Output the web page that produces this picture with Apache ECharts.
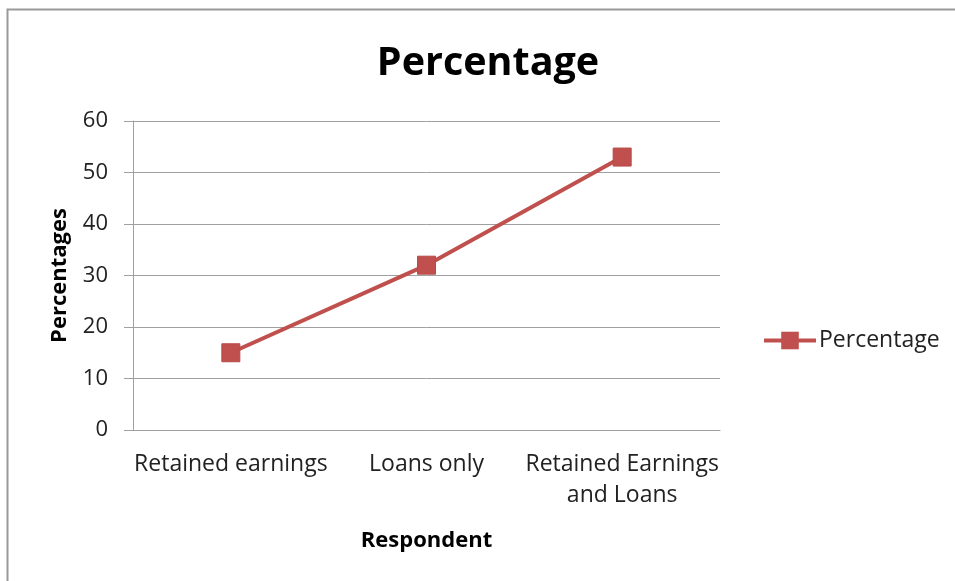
<!DOCTYPE html>
<html>
<head>
<meta charset="utf-8">
<script src="https://cdn.jsdelivr.net/npm/echarts@6/dist/echarts.min.js"></script>
<style>
  html, body { margin: 0; padding: 0; background: #fff; }
  #chart { width: 955px; height: 581px; }
</style>
</head>
<body>
<div id="chart"></div>
<script>
// Funding source categories and the share of respondents for each
const categories = ['Retained earnings', 'Loans only', 'Retained Earnings\nand Loans'];
const percentages = [15, 32, 53];
const yTicks = { min: 0, max: 60, interval: 10 };

const FONT = 'Open Sans';
const RED = '#c0504d';

const chart = echarts.init(document.getElementById('chart'), null, { renderer: 'canvas' });

chart.setOption({
  backgroundColor: '#ffffff',
  animation: false,
  textStyle: { fontFamily: FONT },
  title: {
    text: 'Percentage',
    left: 483,
    top: 39,
    textAlign: 'center',
    textStyle: { fontFamily: FONT, fontSize: 39.5, fontWeight: 'bold', color: '#000' }
  },
  graphic: [{
    type: 'rect',
    shape: { x: 7.5, y: 9.5, width: 1000, height: 700 },
    style: { fill: 'none', stroke: '#999999', lineWidth: 2 },
    silent: true
  }],
  legend: {
    left: 757,
    top: 324,
    itemWidth: 52,
    itemHeight: 22,
    itemGap: 6,
    data: [{
      name: 'Percentage',
      lineStyle: { color: RED, width: 4 },
      itemStyle: { color: RED, borderWidth: 0 }
    }],
    textStyle: { fontFamily: FONT, fontSize: 23, color: '#222', padding: [0, 0, 0, -2] }
  },
  grid: { left: 133, right: 235, top: 121, bottom: 151, containLabel: false },
  xAxis: {
    type: 'category',
    data: categories,
    boundaryGap: true,
    name: 'Respondent',
    nameLocation: 'middle',
    nameGap: 100,
    nameTextStyle: { fontFamily: FONT, fontSize: 22, fontWeight: 'bold', color: '#000' },
    axisLine: { show: true, lineStyle: { color: '#a0a0a0', width: 1 } },
    axisTick: { show: false },
    axisLabel: {
      margin: 19,
      fontFamily: FONT, fontSize: 23, color: '#222',
      lineHeight: 31, interval: 0
    },
    splitLine: { show: false }
  },
  yAxis: {
    type: 'value',
    min: yTicks.min, max: yTicks.max, interval: yTicks.interval,
    name: 'Percentages',
    nameLocation: 'middle',
    nameGap: 62,
    nameRotate: 90,
    nameTextStyle: { fontFamily: FONT, fontSize: 22, fontWeight: 'bold', color: '#000' },
    axisLine: { show: true, lineStyle: { color: '#a0a0a0', width: 1 } },
    axisTick: { show: true, inside: false, length: 9, lineStyle: { color: '#a0a0a0', width: 1 } },
    axisLabel: { margin: 25, fontFamily: FONT, fontSize: 22, color: '#222', padding: [4, 0, 0, 0] },
    splitLine: { show: true, lineStyle: { color: '#a0a0a0', width: 1 } }
  },
  series: [{
    name: 'Percentage',
    type: 'line',
    data: percentages,
    symbol: 'rect',
    symbolSize: 18,
    showAllSymbol: true,
    lineStyle: { color: RED, width: 4 },
    itemStyle: { color: RED, borderColor: '#b94a47', borderWidth: 1 },
    emphasis: { disabled: true }
  }]
});
</script>
</body>
</html>
